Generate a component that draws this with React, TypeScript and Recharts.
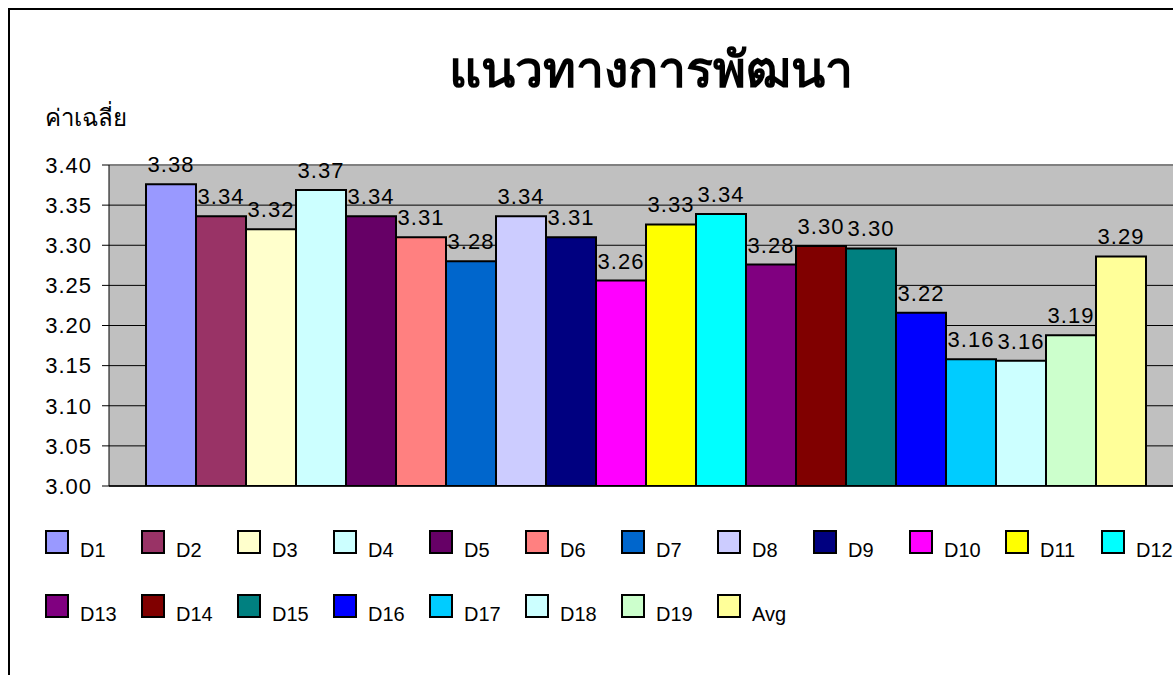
import React from "react";
import { Bar, BarChart, CartesianGrid, LabelList, Legend, ReferenceLine, XAxis, YAxis } from "recharts";

const categories = [""];
const seriesNames = ["D1", "D2", "D3", "D4", "D5", "D6", "D7", "D8", "D9", "D10", "D11", "D12", "D13", "D14", "D15", "D16", "D17", "D18", "D19", "Avg"];
const seriesValues = [3.376, 3.336, 3.32, 3.369, 3.336, 3.31, 3.28, 3.336, 3.31, 3.256, 3.326, 3.339, 3.276, 3.299, 3.296, 3.216, 3.158, 3.156, 3.188, 3.286];
const seriesColors = ["#9999FF", "#993366", "#FFFFCC", "#CCFFFF", "#660066", "#FF8080", "#0066CC", "#CCCCFF", "#000080", "#FF00FF", "#FFFF00", "#00FFFF", "#800080", "#800000", "#008080", "#0000FF", "#00CCFF", "#CCFFFF", "#CCFFCC", "#FFFF99"];
const yTicks = [3.0, 3.05, 3.1, 3.15, 3.2, 3.25, 3.3, 3.35, 3.4];

const data = categories.map((name) => {
  const row: Record<string, string | number> = { name };
  seriesNames.forEach((s, i) => (row[s] = seriesValues[i]));
  return row;
});

const font = "Arial, 'Liberation Sans', sans-serif";

// legend keeps the series order, not the alphabetical one
function LegendBox({ payload }: any) {
  const items = [...(payload || [])].sort((a: any, b: any) => seriesNames.indexOf(a.value) - seriesNames.indexOf(b.value));
  return (
    <div style={{ display: "flex", flexWrap: "wrap", width: 12 * 96 }}>
      {items.map((p: any) => (
        <div key={p.value} style={{ position: "relative", width: 96, height: 64 }}>
          <div style={{ position: "absolute", left: 0, top: 0, width: 20, height: 20, background: p.color, border: "2px solid #000" }} />
          <span style={{ position: "absolute", left: 35, top: 9, fontSize: 20, fontFamily: font, color: "#000", lineHeight: "22px" }}>{p.value}</span>
        </div>
      ))}
    </div>
  );
}

export default function App() {
  return (
    <div style={{ position: "fixed", left: 0, top: 0, width: 1173, height: 675, overflow: "hidden", background: "#fff" }}>
      <div style={{ position: "absolute", left: 8, top: 8, width: 1282, height: 700, border: "2px solid #000" }}>
        <div style={{ position: "absolute", left: 0, width: 1282, top: 20, textAlign: "center", fontSize: 50, fontWeight: 700, fontFamily: font }}>
          แนวทางการพัฒนา
        </div>
        <div style={{ position: "absolute", left: 35, top: 88, fontSize: 24, fontFamily: font }}>ค่าเฉลี่ย</div>
        <BarChart width={1282} height={700} data={data} margin={{ top: 155, right: 109, left: 0, bottom: 216 }} barCategoryGap={37} barGap={0}>
          <CartesianGrid vertical={false} fill="#C0C0C0" stroke="#000" strokeWidth={1} />
          <XAxis dataKey="name" tick={false} tickLine={false} height={8} axisLine={{ stroke: "#000", strokeWidth: 1.5 }} />
          <YAxis
            domain={[3, 3.4]}
            ticks={yTicks}
            allowDataOverflow
            width={99}
            tickSize={7}
            tickMargin={10}
            tickFormatter={(v) => Number(v).toFixed(2)}
            axisLine={{ stroke: "#000" }}
            tickLine={{ stroke: "#000" }}
            tick={{ fill: "#000", fontSize: 22, fontFamily: font, letterSpacing: 1 }}
          />
          <ReferenceLine y={3.4} stroke="#808080" strokeWidth={2} />
          <Legend
            layout="horizontal"
            verticalAlign="middle"
            align="center"
            content={<LegendBox />}
            wrapperStyle={{ position: "absolute", left: 35, top: 520, width: 1152 }}
          />
          {seriesNames.map((s, i) => (
            <Bar key={s} dataKey={s} name={s} fill={seriesColors[i]} stroke="#000" strokeWidth={2} isAnimationActive={false}>
              <LabelList
                dataKey={s}
                position="top"
                offset={12}
                formatter={(v: any) => Number(v).toFixed(2)}
                style={{ fill: "#000", fontSize: 22, fontFamily: font, letterSpacing: 1 }}
              />
            </Bar>
          ))}
        </BarChart>
      </div>
    </div>
  );
}
